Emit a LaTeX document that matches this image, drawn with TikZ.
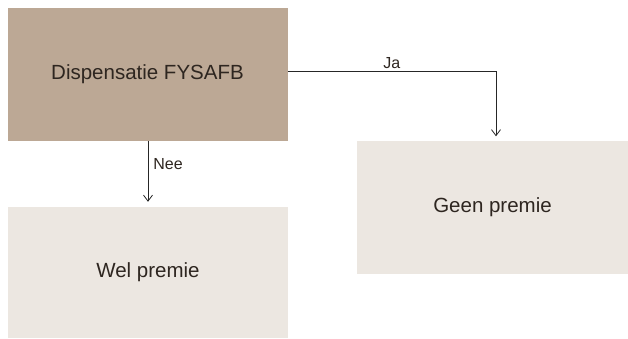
\documentclass[tikz,border=0pt]{standalone}
\usepackage{fontspec}
\setmainfont{Liberation Sans}
\usetikzlibrary{arrows.meta}
\definecolor{taupe}{RGB}{188,168,149}
\definecolor{sand}{RGB}{236,231,225}
\definecolor{ink}{RGB}{46,38,32}
\begin{document}
\begin{tikzpicture}[x=1pt,y=-1pt,
  box/.style={rectangle, inner sep=0pt, text=ink, font=\fontsize{20.5}{24}\selectfont},
  lbl/.style={text=ink, font=\fontsize{16}{19}\selectfont},
  arr/.style={-{Straight Barb[length=6pt,width=9pt]}, line width=0.8pt, black!85}]
\useasboundingbox (0,0) rectangle (628,338);
\node[box, fill=taupe, minimum width=280, minimum height=133] (disp) at (147.5,74.5) {Dispensatie FYSAFB};
\node[box, fill=sand, minimum width=280, minimum height=131] (wel) at (148,272.5) {Wel premie};
\node[box, fill=sand, minimum width=271, minimum height=133] (geen) at (492.5,207.5) {Geen premie};
\draw[arr, shorten >=5pt] (disp.south) -- (wel.north |- disp.south) -- (wel.north)
  node[lbl, pos=0.35, right, inner sep=5pt] (nee) {Nee};
\draw[arr, shorten >=4.5pt] ([yshift=3pt]disp.east) -| ([xshift=3.5pt]geen.north)
  node[lbl, pos=0.25, above, inner sep=2pt] (ja) {Ja};
\end{tikzpicture}
\end{document}
